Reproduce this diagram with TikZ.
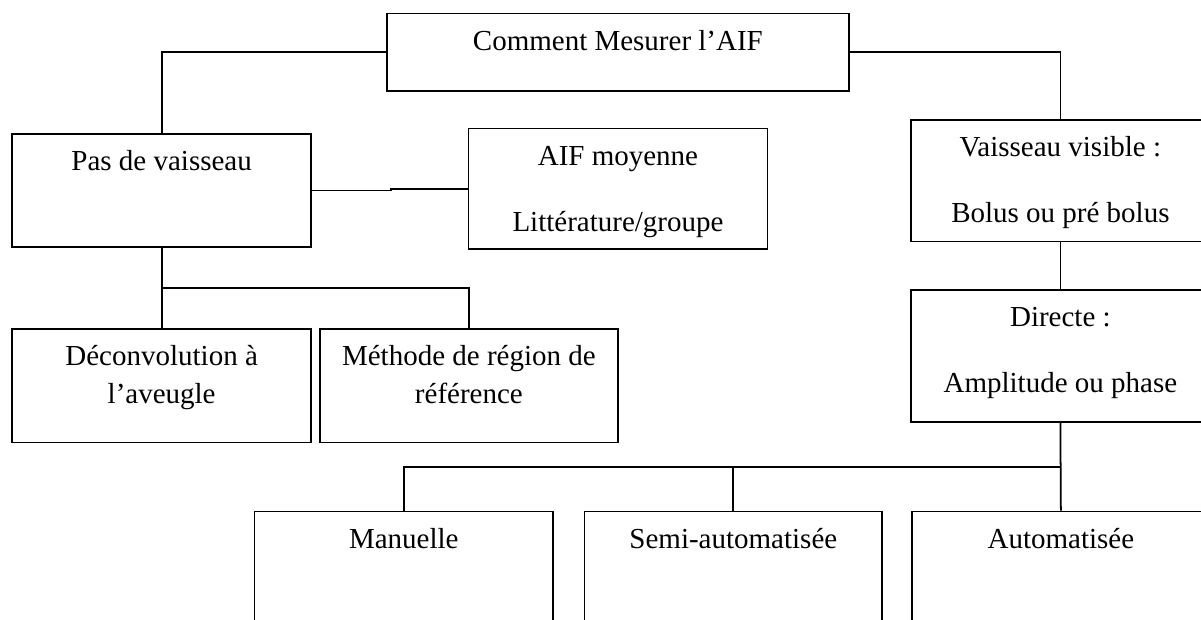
\documentclass[tikz,border=0pt]{standalone}
\usepackage{fontspec}
\setmainfont{Liberation Serif}
\tikzset{
	boite/.style={draw, line width=1pt, inner sep=0pt, anchor=north west},
	texte/.style={anchor=base, inner sep=0pt, font=\fontsize{16.5}{20}\selectfont},
	lien/.style={line width=1pt}
}
\begin{document}
\begin{tikzpicture}
			\useasboundingbox (0,0) rectangle (24.02,-12.38);
			\clip (0,0) rectangle (24.02,-12.38);
			% boites
			\node[boite, minimum width=9.24cm, minimum height=1.546cm] (top) at (7.72,-0.254) {};
			\node[boite, minimum width=5.97cm, minimum height=2.254cm] (pas) at (0.23,-2.666) {};
			\node[boite, minimum width=5.976cm, minimum height=2.412cm] (aif) at (9.354,-2.554) {};
			\node[boite, minimum width=5.98cm, minimum height=2.434cm] (vis) at (18.2,-2.38) {};
			\node[boite, minimum width=5.98cm, minimum height=2.634cm] (dir) at (18.2,-5.786) {};
			\node[boite, minimum width=5.97cm, minimum height=2.268cm] (dec) at (0.23,-6.566) {};
			\node[boite, minimum width=5.968cm, minimum height=2.268cm] (meth) at (6.376,-6.566) {};
			\node[boite, minimum width=5.97cm, minimum height=3cm] (man) at (5.074,-10.214) {};
			\node[boite, minimum width=5.954cm, minimum height=3cm] (semi) at (11.672,-10.214) {};
			\node[boite, minimum width=5.96cm, minimum height=3cm] (auto) at (18.22,-10.214) {};
			% textes
			\node[texte] (top-t) at ([yshift=-0.75cm]top.north) {Comment Mesurer l’AIF};
			\node[texte] (pas-t) at ([yshift=-0.75cm]pas.north) {Pas de vaisseau};
			\node[texte] (aif-a) at ([yshift=-0.75cm]aif.north) {AIF moyenne};
			\node[texte] (aif-b) at ([yshift=-2.08cm]aif.north) {Littérature/groupe};
			\node[texte] (vis-a) at ([yshift=-0.75cm]vis.north) {Vaisseau visible :};
			\node[texte] (vis-b) at ([yshift=-2.06cm]vis.north) {Bolus ou pré bolus};
			\node[texte] (dir-a) at ([yshift=-0.75cm]dir.north) {Directe :};
			\node[texte] (dir-b) at ([yshift=-2.06cm]dir.north) {Amplitude ou phase};
			\node[texte] (dec-a) at ([yshift=-0.75cm]dec.north) {Déconvolution à};
			\node[texte] (dec-b) at ([yshift=-1.5cm]dec.north) {l’aveugle};
			\node[texte] (meth-a) at ([yshift=-0.75cm]meth.north) {Méthode de région de};
			\node[texte] (meth-b) at ([yshift=-1.5cm]meth.north) {référence};
			\node[texte] (man-t) at ([yshift=-0.75cm]man.north) {Manuelle};
			\node[texte] (semi-t) at ([yshift=-0.75cm]semi.north) {Semi-automatisée};
			\node[texte] (auto-t) at ([yshift=-0.75cm]auto.north) {Automatisée};
			% liens
			\draw[lien] (top.west) -| (pas.north);
			\draw[lien] (top.east) -| (vis.north);
			\draw[lien] (pas.east) -- ++(1.58,0) |- (aif.west);
			\draw[lien] (pas.south) -- (dec.north);
			\path (pas.south) -- (dec.north) coordinate[midway] (forkl);
			\draw[lien] (forkl) -| (meth.north);
			\draw[lien] (vis.south) -- (dir.north);
			\draw[lien] (dir.south) -- (auto.north);
			\path (dir.south) -- (auto.north) coordinate[midway] (forkr);
			\draw[lien] (forkr) -| (man.north);
			\draw[lien] (semi.north) -- (semi.north |- forkr);
		\end{tikzpicture}
\end{document}
